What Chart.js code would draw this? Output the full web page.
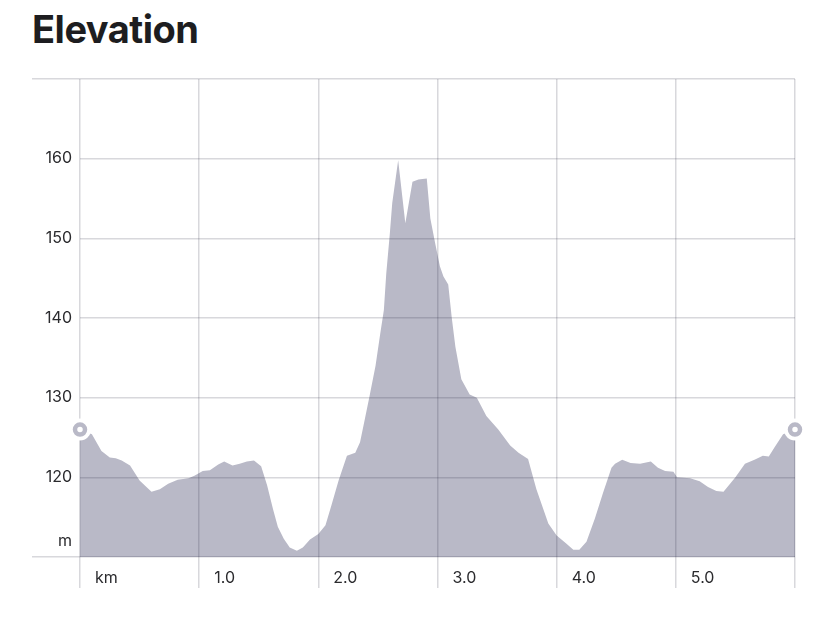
<!DOCTYPE html>
<html>
<head>
<meta charset="utf-8">
<title>Elevation</title>
<script src="https://cdn.jsdelivr.net/npm/chart.js@4.4.1/dist/chart.umd.min.js"></script>
<style>
    html, body { margin: 0; padding: 0; background: #fff; }
    body { width: 828px; height: 624px; position: relative; overflow: hidden; font-family: Inter, "Noto Sans", sans-serif; }
    h1 { position: absolute; left: 32px; top: 6px; margin: 0; font-size: 38px; line-height: 46px; font-weight: 700; color: #1d1d20; letter-spacing: -0.5px; }
    #wrap { position: absolute; left: 0; top: 60px; width: 828px; height: 564px; }
</style>
</head>
<body>
<h1>Elevation</h1>
<div id="wrap"><canvas id="chartElevation" width="828" height="564"></canvas></div>
<script>
// distance along the route (km) and elevation (m)
const distances = [
    0.00, 0.10, 0.18, 0.25, 0.30, 0.35, 0.42, 0.50, 0.60, 0.67,
    0.74, 0.82, 0.91, 0.96, 1.03, 1.09, 1.16, 1.21, 1.28, 1.34,
    1.40, 1.46, 1.52, 1.57, 1.62, 1.66, 1.71, 1.76, 1.82, 1.87,
    1.93, 2.00, 2.06, 2.11, 2.17, 2.24, 2.31, 2.35, 2.39, 2.43,
    2.48, 2.52, 2.55, 2.57, 2.60, 2.62, 2.67, 2.73, 2.79, 2.84,
    2.91, 2.94, 2.98, 3.02, 3.05, 3.09, 3.12, 3.15, 3.20, 3.27,
    3.33, 3.41, 3.51, 3.61, 3.68, 3.76, 3.83, 3.93, 4.00, 4.08,
    4.14, 4.19, 4.25, 4.32, 4.39, 4.46, 4.49, 4.55, 4.62, 4.70,
    4.79, 4.85, 4.91, 4.98, 5.01, 5.12, 5.20, 5.27, 5.34, 5.40,
    5.50, 5.58, 5.66, 5.73, 5.78, 5.83, 5.90, 6.00
];
const elevations = [
    126.0, 125.4, 123.3, 122.5, 122.4, 122.1, 121.5, 119.6, 118.2, 118.5,
    119.2, 119.7, 119.9, 120.2, 120.8, 120.9, 121.6, 122.0, 121.5, 121.7,
    122.0, 122.1, 121.4, 119.0, 116.0, 113.8, 112.3, 111.2, 110.8, 111.2,
    112.2, 112.9, 114.0, 116.5, 119.6, 122.7, 123.1, 124.4, 127.3, 130.2,
    134.0, 138.1, 141.0, 145.6, 150.6, 154.4, 159.8, 151.9, 157.1, 157.4,
    157.5, 152.5, 149.4, 146.5, 145.2, 144.2, 140.0, 136.4, 132.3, 130.4,
    130.0, 127.7, 126.0, 124.0, 123.1, 122.3, 118.5, 114.2, 112.7, 111.7,
    110.9, 110.9, 111.9, 114.8, 118.1, 121.2, 121.7, 122.2, 121.8, 121.7,
    122.0, 121.2, 120.8, 120.7, 120.0, 119.9, 119.5, 118.8, 118.3, 118.2,
    120.0, 121.7, 122.2, 122.7, 122.6, 123.8, 125.4, 126.0
];

const xTicks = [0, 1, 2, 3, 4, 5, 6];
const xTickLabels = ['km', '1.0', '2.0', '3.0', '4.0', '5.0', ''];
const yTicks = [110, 120, 130, 140, 150, 160, 170];
const yTickLabels = ['', '120', '130', '140', '150', '160', ''];
const yUnit = 'm';

const fillColor = '#b9b9c7';
const gridColor = 'rgba(40, 40, 60, 0.18)';
const labelColor = '#2b2b2e';

Chart.defaults.font.family = 'Inter, "Noto Sans", sans-serif';
Chart.defaults.font.size = 16;
Chart.defaults.color = labelColor;

// "m" sits just above the bottom line, left of the plot
const unitLabel = {
    id: 'unitLabel',
    afterDraw(chart) {
        const y = chart.scales.y;
        const ctx = chart.ctx;
        ctx.save();
        ctx.font = '16px Inter, "Noto Sans", sans-serif';
        ctx.fillStyle = labelColor;
        ctx.textAlign = 'right';
        ctx.textBaseline = 'middle';
        ctx.fillText(yUnit, chart.chartArea.left - 8, y.getPixelForValue(y.min) - 16);
        ctx.restore();
    }
};

function renderElevation(id) {
    const canvas = document.getElementById(id);
    if (!canvas || typeof Chart === 'undefined') return;

    const profile = distances.map((d, i) => ({ x: d, y: elevations[i] }));
    const last = distances.length - 1;
    const ends = [
        { x: distances[0], y: elevations[0] },
        { x: distances[last], y: elevations[last] }
    ];

    new Chart(canvas, {
        type: 'line',
        data: {
            datasets: [
                {
                    data: profile,
                    fill: 'start',
                    backgroundColor: fillColor,
                    borderColor: 'transparent',
                    borderWidth: 0,
                    pointRadius: 0,
                    tension: 0,
                    order: 3
                },
                {
                    data: ends,
                    showLine: false,
                    pointRadius: 11,
                    pointBackgroundColor: '#fff',
                    pointBorderWidth: 0,
                    clip: false,
                    order: 2
                },
                {
                    data: ends,
                    showLine: false,
                    pointRadius: 5,
                    pointBackgroundColor: '#fff',
                    pointBorderColor: fillColor,
                    pointBorderWidth: 4.5,
                    clip: false,
                    order: 1
                }
            ]
        },
        options: {
            responsive: false,
            animation: false,
            layout: { padding: { left: 32, right: 33, top: 19, bottom: 27 } },
            plugins: {
                legend: { display: false },
                tooltip: { enabled: false },
                filler: { drawTime: 'beforeDraw' }
            },
            scales: {
                x: {
                    type: 'linear',
                    min: 0,
                    max: 6,
                    afterBuildTicks: (scale) => { scale.ticks = xTicks.map(v => ({ value: v })); },
                    afterFit: (scale) => { scale.height = 40; },
                    border: { display: false },
                    grid: { color: gridColor, lineWidth: 1.5, tickLength: 31, tickColor: gridColor },
                    ticks: {
                        align: 'start',
                        labelOffset: 15,
                        padding: -19,
                        autoSkip: false,
                        maxRotation: 0,
                        callback: (value) => xTickLabels[xTicks.indexOf(value)] ?? ''
                    }
                },
                y: {
                    min: 110,
                    max: 170,
                    afterBuildTicks: (scale) => { scale.ticks = yTicks.map(v => ({ value: v })); },
                    afterFit: (scale) => { scale.width = 48; },
                    border: { display: false },
                    grid: {
                        color: gridColor,
                        lineWidth: 1.5,
                        tickLength: 48,
                        tickColor: (ctx) => {
                            const v = ctx.tick ? ctx.tick.value : null;
                            return (v === yTicks[0] || v === yTicks[yTicks.length - 1]) ? gridColor : 'transparent';
                        }
                    },
                    ticks: {
                        padding: -40,
                        autoSkip: false,
                        callback: (value) => yTickLabels[yTicks.indexOf(value)] ?? ''
                    }
                }
            }
        },
        plugins: [unitLabel]
    });
}

document.addEventListener('DOMContentLoaded', () => {
    renderElevation('chartElevation');
});
</script>
</body>
</html>
